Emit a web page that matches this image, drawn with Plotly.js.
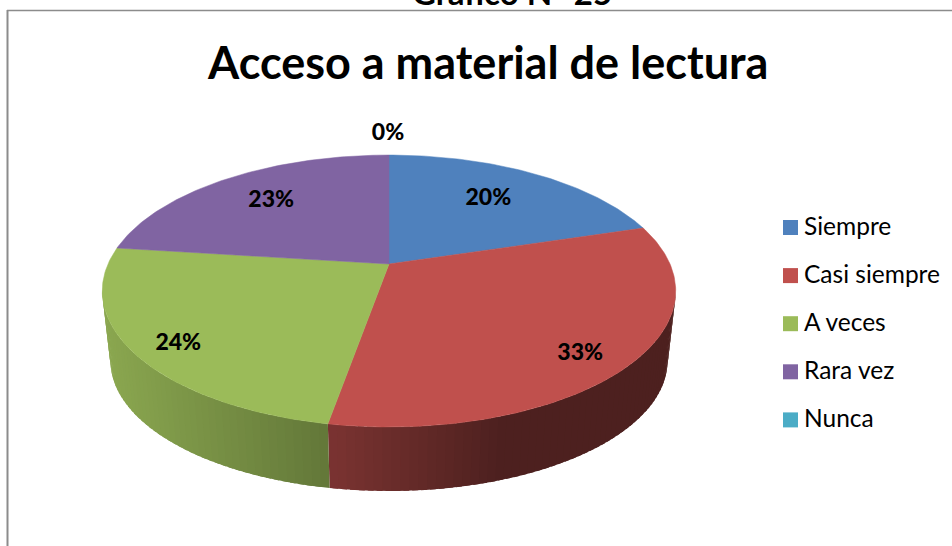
<!DOCTYPE html>
<html>
<head>
<meta charset="utf-8">
<script src="https://cdn.plot.ly/plotly-3.0.1.min.js"></script>
<style>html,body{margin:0;padding:0;background:#fff;overflow:hidden}#chart{width:952px;height:546px}</style>
</head>
<body>
<div id="chart"></div>
<script>
// Data
const categories = ["Siempre", "Casi siempre", "A veces", "Rara vez", "Nunca"];
const values = [20.3, 32.5, 24.2, 23.0, 0];
const chartTitle = "Acceso a material de lectura";
const pageHeading = "Gráfico N° 25";

// Styles
const colors = ["#4f81bd", "#c0504d", "#9bbb59", "#8064a2", "#4bacc6"];
const FONT = "Lato, 'Open Sans', sans-serif";

// Perspective of the tilted disc: pixel axes, circle -> picture
const view = {cx: 389, cy: 264, a: 281, b: 130.6, k: 0.1987};
const floor = {cx: 389, cy: 335, a: 273, b: 125};
function project(deg, r, ring) {
  const t = deg * Math.PI / 180, u = r * Math.sin(t), v = r * Math.cos(t);
  const w = 1 + view.k * v;
  return [ring.cx + ring.a * u / w, ring.cy - ring.b * v / w];
}
function shade(x) {
  const xs = [105, 333, 500, 680], fs = [0.89, 0.63, 0.40, 0.40];
  for (let i = 0; i < 3; i++) if (x <= xs[i + 1]) {
    const p = Math.max(0, (x - xs[i]) / (xs[i + 1] - xs[i]));
    return fs[i] + p * (fs[i + 1] - fs[i]);
  }
  return fs[3];
}
function dim(hex, f) {
  const n = parseInt(hex.slice(1), 16);
  return `rgb(${Math.round((n >> 16) * f)},${Math.round(((n >> 8) & 255) * f)},${Math.round((n & 255) * f)})`;
}

const total = values.reduce((s, d) => s + d, 0);
const traces = [];
const mids = [];
let start = 0;
const sideTraces = [], topTraces = [];
values.forEach((d, i) => {
  const a0 = start / total * 360, a1 = (start + d) / total * 360;
  mids.push((a0 + a1) / 2);
  start += d;
  if (d <= 0) return;
  // rim, in narrow overlapping strips so that it can carry the shading
  const step = 1.5;
  for (let a = a0; a < a1; a += step) {
    const b = Math.min(a + step, a1);
    if (Math.cos(((a + b) / 2) * Math.PI / 180) > -view.k) continue;
    const e = Math.min(b + 1, a1);
    const p = [project(a, 1, view), project(e, 1, view), project(e, 1, floor), project(a, 1, floor)];
    const col = dim(colors[i], shade((p[0][0] + p[1][0]) / 2));
    sideTraces.push({
      type: "scatter", mode: "lines", x: p.map(q => q[0]).concat(p[0][0]), y: p.map(q => q[1]).concat(p[0][1]),
      fill: "toself", fillcolor: col, line: {width: 0}, hoverinfo: "skip", showlegend: false
    });
  }
  // top face
  const xs = [view.cx], ys = [view.cy];
  const n = Math.max(2, Math.ceil((a1 - a0) / 1));
  for (let j = 0; j <= n; j++) {
    const q = project(a0 + (a1 - a0) * j / n, 1, view);
    xs.push(q[0]); ys.push(q[1]);
  }
  xs.push(view.cx); ys.push(view.cy);
  topTraces.push({
    type: "scatter", mode: "lines", x: xs, y: ys, fill: "toself", fillcolor: colors[i],
    line: {color: colors[i], width: 0.5}, name: categories[i], hoverinfo: "name", showlegend: false
  });
});
traces.push(...sideTraces, ...topTraces);

// Data labels
const labelRadius = [0.70, 0.85, 0.85, 0.70, 1.27];
const labelNudge = [[-6, 1], [-10, 7], [3, 7], [0, -1], [-1, 3]];
const lab = values.map((d, i) => {
  const q = project(mids[i], labelRadius[i], view);
  return [q[0] + labelNudge[i][0], q[1] + labelNudge[i][1]];
});
traces.push({
  type: "scatter", mode: "text", x: lab.map(q => q[0]), y: lab.map(q => q[1]),
  text: values.map(d => Math.round(d / total * 100) + "%"), textposition: "middle center",
  textfont: {family: FONT, size: 23, color: "#000", weight: 900}, hoverinfo: "skip", showlegend: false, cliponaxis: false
});

// Legend
const legendTop = 227.5, legendGap = 48.1;
const legendY = categories.map((c, i) => legendTop + i * legendGap);
traces.push({
  type: "scatter", mode: "markers", x: categories.map(() => 790.5), y: legendY,
  marker: {symbol: "square", size: 15, color: colors, line: {width: 0}}, hoverinfo: "skip", showlegend: false
});
traces.push({
  type: "scatter", mode: "text", x: categories.map(() => 804), y: legendY.map(v => v + 1), text: categories,
  textposition: "middle right", textfont: {family: FONT, size: 24.5, color: "#000"}, hoverinfo: "skip", showlegend: false, cliponaxis: false
});

const hidden = {visible: false, fixedrange: true};
const layout = {
  width: 952, height: 546, margin: {l: 0, r: 0, t: 0, b: 0}, autosize: false,
  paper_bgcolor: "#fff", plot_bgcolor: "#fff", showlegend: false,
  xaxis: Object.assign({range: [0, 952]}, hidden),
  yaxis: Object.assign({range: [546, 0]}, hidden),
  shapes: [
    {type: "line", xref: "x", yref: "y", x0: 7.5, x1: 7.5, y0: 10, y1: 546, line: {color: "#8c8c8c", width: 2}, layer: "below"},
    {type: "line", xref: "x", yref: "y", x0: 7, x1: 952, y0: 10.5, y1: 10.5, line: {color: "#8c8c8c", width: 1.5}, layer: "below"}
  ],
  annotations: [
    {xref: "x", yref: "y", x: 487.5, y: 62, text: "<b>" + chartTitle + "</b>", showarrow: false,
     xanchor: "center", yanchor: "middle", font: {family: FONT, size: 45, color: "#000"}},
    {xref: "x", yref: "y", x: 511.5, y: 0, yshift: 8, text: "<b>" + pageHeading + "</b>", showarrow: false,
     xanchor: "center", yanchor: "middle", font: {family: FONT, size: 33, color: "#000"}}
  ]
};
Plotly.newPlot("chart", traces, layout, {displayModeBar: false, staticPlot: true});
</script>
</body>
</html>
